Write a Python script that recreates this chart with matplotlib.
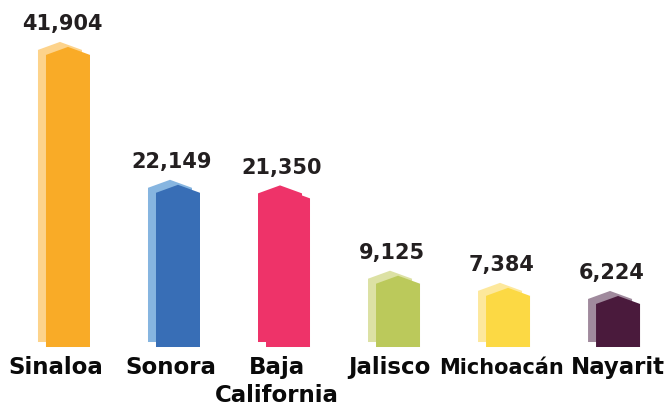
import numpy as np
import matplotlib.pyplot as plt
from matplotlib.patches import Polygon

estados = ["Sinaloa", "Sonora", "Baja\nCalifornia", "Jalisco", "Michoacán", "Nayarit"]
valores = [41904, 22149, 21350, 9125, 7384, 6224]
colores = ["#F9AB27", "#386EB6", "#EE3369", "#BBC95B", "#FCD944", "#4A1A3C"]
sombras = ["#FDD38B", "#86B5E0", "#EE3369", "#DCE1A4", "#FDE89C", "#A08A9D"]

fig = plt.figure(figsize=(6.67, 4.09), dpi=100)
ax = fig.add_axes([0, 0, 1, 1])
ax.set_xlim(-0.618, 5.445)
ax.set_ylim(-9971, 48625)
ax.axis("off")

px = 143.3         # unidades de datos por pixel (vertical)
ancho = 0.40
techo = 8 * px     # altura del "techo"
base = -7.6 * px   # las barras bajan un poco del cero
dx_s, dy_s = -8 / 110, 5 * px  # desplazamiento de la sombra


def casa(xc, v, dx=0.0, dy=0.0):
    x0, x1 = xc - ancho / 2 + dx, xc + ancho / 2 + dx
    return [(x0, base + dy), (x0, v - techo + dy), (xc + dx, v + dy),
            (x1, v - techo + dy), (x1, base + dy)]


for i, v in enumerate(valores):
    ax.add_patch(Polygon(casa(i, v, dx_s, dy_s), closed=True,
                         facecolor=sombras[i], edgecolor="none"))
    ax.add_patch(Polygon(casa(i, v), closed=True,
                         facecolor=colores[i], edgecolor="none"))
    ax.text(i - 0.055, v + 16.5 * px, f"{v:,}", ha="center", va="baseline",
            fontsize=15, fontweight="bold", color="#231F20")

desp = [-12, -7, -11, -9, -7, 0]  # ajuste horizontal de las etiquetas (px)
for i, e in enumerate(estados):
    fs = 15 if e == "Michoacán" else 16.5
    for k, linea in enumerate(e.split("\n")):
        ax.text(i + desp[i] / 110, (339.4 - 374 - 28 * k) * px, linea,
                ha="center", va="baseline", fontsize=fs,
                fontweight="bold", color="#0A0A0A")

fig.savefig("out.png", dpi=100)
